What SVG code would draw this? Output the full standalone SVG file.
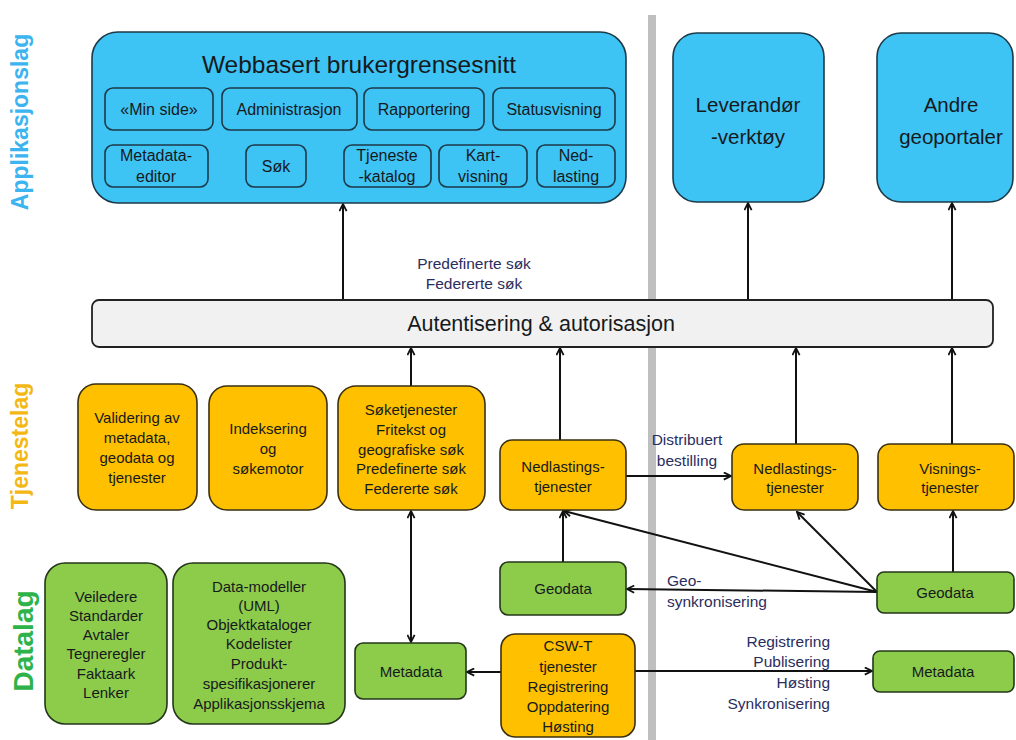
<svg xmlns="http://www.w3.org/2000/svg" width="1016" height="740" viewBox="0 0 1016 740">
  <style>
    text { font-family: "Liberation Sans", Arial, sans-serif; fill: #161a1c; text-anchor: middle; }
    .app { fill: #3EC3F5; stroke: #1d3a48; stroke-width: 1.6; }
    .svc { fill: #FFC000; stroke: #3a3010; stroke-width: 1.6; }
    .dat { fill: #8DCB4B; stroke: #24361a; stroke-width: 1.6; }
    .band { fill: #F1F1F1; stroke: #222; stroke-width: 1.8; }
    .sub { font-size: 16px; }
    .t15 { font-size: 15px; }
    .lbl { font-size: 15.5px; fill: #2b2d5e; }
    .layer { font-weight: bold; }
    .wire { stroke: #111; stroke-width: 2; fill: none; }
  </style>
  <defs>
    <marker id="arr" viewBox="0 0 10 10" refX="9" refY="5" markerWidth="9" markerHeight="9" markerUnits="userSpaceOnUse" orient="auto-start-reverse">
      <path d="M1,1 L9,5 L1,9" fill="none" stroke="#111" stroke-width="2"/>
    </marker>
  </defs>

  <rect width="1016" height="740" fill="#ffffff"/>

  <!-- separator between own and external systems -->
  <rect x="648" y="15" width="8" height="725" fill="#BFBFBF"/>

  <!-- layer titles -->
  <text class="layer" transform="translate(28,122) rotate(-90)" style="fill:#3CB4F0;font-size:23px">Applikasjonslag</text>
  <text class="layer" transform="translate(28,446) rotate(-90)" style="fill:#F4B815;font-size:23px">Tjenestelag</text>
  <text class="layer" transform="translate(33,641) rotate(-90)" style="fill:#2DB34A;font-size:28px">Datalag</text>

  <!-- connectors -->
  <g id="connectors">
    <line class="wire" x1="343" y1="300" x2="343" y2="204" marker-end="url(#arr)"/>
    <line class="wire" x1="748" y1="300" x2="748" y2="203" marker-end="url(#arr)"/>
    <line class="wire" x1="952" y1="300" x2="952" y2="203" marker-end="url(#arr)"/>
    <line class="wire" x1="411" y1="386" x2="411" y2="348" marker-end="url(#arr)"/>
    <line class="wire" x1="560" y1="440" x2="560" y2="348" marker-end="url(#arr)"/>
    <line class="wire" x1="796" y1="444" x2="796" y2="348" marker-end="url(#arr)"/>
    <line class="wire" x1="952" y1="444" x2="952" y2="348" marker-end="url(#arr)"/>
    <line class="wire" x1="626" y1="476" x2="731" y2="476" marker-end="url(#arr)"/>
    <line class="wire" x1="411" y1="511" x2="411" y2="642" marker-start="url(#arr)" marker-end="url(#arr)"/>
    <line class="wire" x1="563" y1="562" x2="563" y2="511" marker-end="url(#arr)"/>
    <line class="wire" x1="877" y1="592" x2="627" y2="589" marker-end="url(#arr)"/>
    <line class="wire" x1="877" y1="592" x2="564" y2="511" marker-end="url(#arr)"/>
    <line class="wire" x1="877" y1="592" x2="797" y2="512" marker-end="url(#arr)"/>
    <line class="wire" x1="953" y1="572" x2="953" y2="511" marker-end="url(#arr)"/>
    <line class="wire" x1="501" y1="672" x2="467" y2="672" marker-end="url(#arr)"/>
    <line class="wire" x1="635" y1="671" x2="872" y2="671" marker-end="url(#arr)"/>

    <text class="lbl" x="474" y="269">Predefinerte søk</text>
    <text class="lbl" x="474" y="289">Federerte søk</text>
    <text class="lbl" x="687" y="445">Distribuert</text>
    <text class="lbl" x="687" y="466">bestilling</text>
    <text class="lbl" x="667" y="586" style="text-anchor:start">Geo-</text>
    <text class="lbl" x="667" y="607" style="text-anchor:start">synkronisering</text>
    <text class="lbl" x="830" y="647" style="text-anchor:end">Registrering</text>
    <text class="lbl" x="830" y="667" style="text-anchor:end">Publisering</text>
    <text class="lbl" x="830" y="688" style="text-anchor:end">Høsting</text>
    <text class="lbl" x="830" y="709" style="text-anchor:end">Synkronisering</text>
  </g>

  <!-- application layer -->
  <g id="web-ui">
    <rect class="app" x="92" y="32" width="534" height="171" rx="26"/>
    <text x="359" y="73" style="font-size:24.5px">Webbasert brukergrensesnitt</text>
  </g>
  <g id="min-side">
    <rect class="app" x="105" y="88" width="108" height="42" rx="8"/>
    <text class="sub" x="159" y="115">«Min side»</text>
  </g>
  <g id="administrasjon">
    <rect class="app" x="222" y="88" width="135" height="42" rx="8"/>
    <text class="sub" x="289" y="115">Administrasjon</text>
  </g>
  <g id="rapportering">
    <rect class="app" x="364" y="88" width="120" height="42" rx="8"/>
    <text class="sub" x="424" y="115">Rapportering</text>
  </g>
  <g id="statusvisning">
    <rect class="app" x="493" y="88" width="122" height="42" rx="8"/>
    <text class="sub" x="554" y="115">Statusvisning</text>
  </g>
  <g id="metadata-editor">
    <rect class="app" x="105" y="145" width="103" height="42" rx="8"/>
    <text class="sub" x="156" y="161">Metadata-</text>
    <text class="sub" x="156" y="182">editor</text>
  </g>
  <g id="sok">
    <rect class="app" x="246" y="145" width="60" height="42" rx="8"/>
    <text class="sub" x="276" y="172">Søk</text>
  </g>
  <g id="tjenestekatalog">
    <rect class="app" x="344" y="145" width="87" height="42" rx="8"/>
    <text class="sub" x="387" y="161">Tjeneste</text>
    <text class="sub" x="387" y="182">-katalog</text>
  </g>
  <g id="kartvisning">
    <rect class="app" x="439" y="145" width="88" height="42" rx="8"/>
    <text class="sub" x="483" y="161">Kart-</text>
    <text class="sub" x="483" y="182">visning</text>
  </g>
  <g id="nedlasting">
    <rect class="app" x="537" y="145" width="78" height="42" rx="8"/>
    <text class="sub" x="576" y="161">Ned-</text>
    <text class="sub" x="576" y="182">lasting</text>
  </g>
  <g id="leverandorverktoy">
    <rect class="app" x="673" y="33" width="151" height="169" rx="24"/>
    <text x="748" y="112" style="font-size:20.5px">Leverandør</text>
    <text x="748" y="144" style="font-size:20.5px">-verktøy</text>
  </g>
  <g id="andre-geoportaler">
    <rect class="app" x="877" y="33" width="136" height="169" rx="24"/>
    <text x="951" y="112" style="font-size:20.5px">Andre</text>
    <text x="951" y="144" style="font-size:20.5px">geoportaler</text>
  </g>

  <!-- access control -->
  <g id="autentisering">
    <rect class="band" x="92" y="300" width="901" height="47" rx="7"/>
    <text x="541" y="331" style="font-size:21.5px">Autentisering &amp; autorisasjon</text>
  </g>

  <!-- service layer -->
  <g id="validering">
    <rect class="svc" x="78" y="384" width="119" height="126" rx="18"/>
    <text class="t15" x="137" y="423">Validering av</text>
    <text class="t15" x="137" y="443">metadata,</text>
    <text class="t15" x="137" y="463">geodata og</text>
    <text class="t15" x="137" y="483">tjenester</text>
  </g>
  <g id="indeksering">
    <rect class="svc" x="209" y="386" width="118" height="124" rx="18"/>
    <text class="t15" x="268" y="434">Indeksering</text>
    <text class="t15" x="268" y="454">og</text>
    <text class="t15" x="268" y="474">søkemotor</text>
  </g>
  <g id="soketjenester">
    <rect class="svc" x="338" y="386" width="147" height="124" rx="18"/>
    <text class="t15" x="411" y="415">Søketjenester</text>
    <text class="t15" x="411" y="435">Fritekst og</text>
    <text class="t15" x="411" y="455">geografiske søk</text>
    <text class="t15" x="411" y="474">Predefinerte søk</text>
    <text class="t15" x="411" y="494">Federerte søk</text>
  </g>
  <g id="nedlastingstjenester-lokal">
    <rect class="svc" x="500" y="440" width="126" height="70" rx="12"/>
    <text class="t15" x="563" y="472">Nedlastings-</text>
    <text class="t15" x="563" y="492">tjenester</text>
  </g>
  <g id="nedlastingstjenester-ekstern">
    <rect class="svc" x="732" y="444" width="126" height="66" rx="12"/>
    <text class="t15" x="795" y="474">Nedlastings-</text>
    <text class="t15" x="795" y="493">tjenester</text>
  </g>
  <g id="visningstjenester">
    <rect class="svc" x="878" y="444" width="136" height="66" rx="12"/>
    <text class="t15" x="950" y="474">Visnings-</text>
    <text class="t15" x="950" y="493">tjenester</text>
  </g>

  <!-- data layer -->
  <g id="veiledere">
    <rect class="dat" x="45" y="563" width="122" height="161" rx="20"/>
    <text class="t15" x="106" y="602">Veiledere</text>
    <text class="t15" x="106" y="621">Standarder</text>
    <text class="t15" x="106" y="640">Avtaler</text>
    <text class="t15" x="106" y="659">Tegneregler</text>
    <text class="t15" x="106" y="679">Faktaark</text>
    <text class="t15" x="106" y="698">Lenker</text>
  </g>
  <g id="datamodeller">
    <rect class="dat" x="173" y="563" width="172" height="161" rx="20"/>
    <text class="t15" x="259" y="592">Data-modeller</text>
    <text class="t15" x="259" y="611">(UML)</text>
    <text class="t15" x="259" y="630">Objektkataloger</text>
    <text class="t15" x="259" y="649">Kodelister</text>
    <text class="t15" x="259" y="669">Produkt-</text>
    <text class="t15" x="259" y="689">spesifikasjonerer</text>
    <text class="t15" x="259" y="709">Applikasjonsskjema</text>
  </g>
  <g id="metadata-lokal">
    <rect class="dat" x="355" y="643" width="111" height="56" rx="8"/>
    <text class="t15" x="411" y="677">Metadata</text>
  </g>
  <g id="geodata-lokal">
    <rect class="dat" x="500" y="562" width="126" height="53" rx="8"/>
    <text class="t15" x="563" y="594">Geodata</text>
  </g>
  <g id="csw-t">
    <rect class="svc" x="501" y="634" width="134" height="103" rx="14"/>
    <text class="t15" x="568" y="651">CSW-T</text>
    <text class="t15" x="568" y="672">tjenester</text>
    <text class="t15" x="568" y="692">Registrering</text>
    <text class="t15" x="568" y="712">Oppdatering</text>
    <text class="t15" x="568" y="732">Høsting</text>
  </g>
  <g id="geodata-ekstern">
    <rect class="dat" x="877" y="572" width="137" height="41" rx="7"/>
    <text class="t15" x="945" y="598">Geodata</text>
  </g>
  <g id="metadata-ekstern">
    <rect class="dat" x="873" y="651" width="141" height="41" rx="7"/>
    <text class="t15" x="943" y="677">Metadata</text>
  </g>
</svg>
